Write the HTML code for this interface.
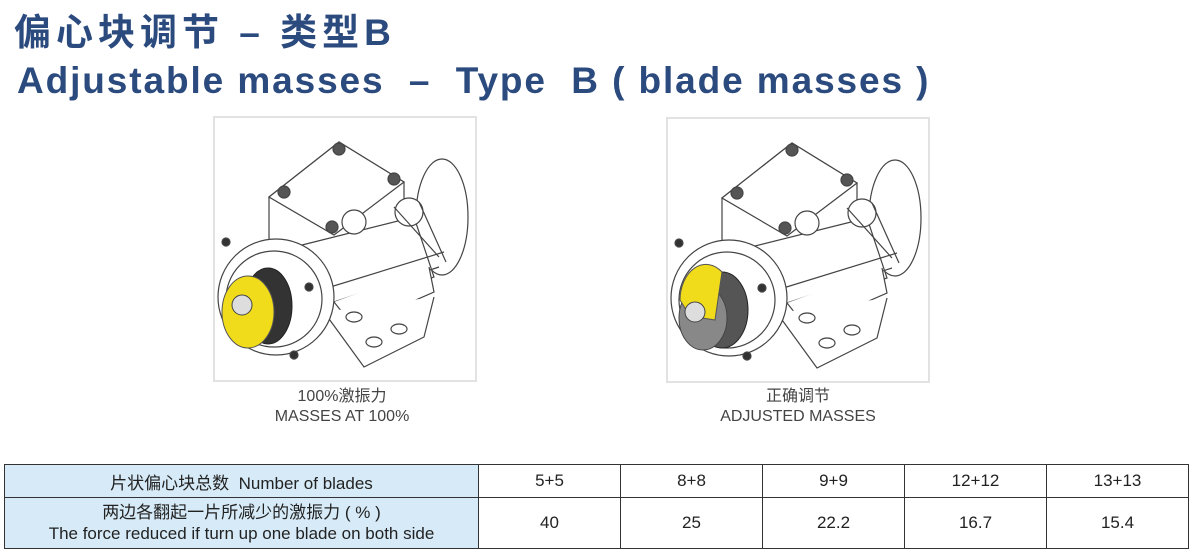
<!DOCTYPE html>
<html><head><meta charset="utf-8"><style>
body{margin:0;width:1194px;height:552px;background:#fff;overflow:hidden;position:relative;font-family:"Liberation Sans","Noto Sans CJK SC",sans-serif}
.t1{position:absolute;left:14px;top:2px;font-size:37px;font-weight:bold;color:#2b4a7e;font-family:"Liberation Sans","Noto Sans CJK SC",sans-serif;letter-spacing:5px;white-space:nowrap}
.t2{position:absolute;left:17px;top:60px;font-size:37px;font-weight:bold;color:#2b4a7e;letter-spacing:1.9px;white-space:nowrap}
.cap{position:absolute;text-align:center;font-size:16px;color:#444;line-height:20px}
table{position:absolute;left:4px;top:464px;border-collapse:collapse;font-size:17px;color:#222}
td{border:1.5px solid #333;text-align:center;padding:0;vertical-align:middle}
.h{background:#d6ebf7;width:473px}
.v{width:141px}
</style></head><body>
<div class="t1">偏心块调节 – 类型B</div>
<div class="t2">Adjustable masses &nbsp;– &nbsp;Type &nbsp;B ( blade masses )</div>
<svg width="1194" height="552" style="position:absolute;left:0;top:0">
<defs>
<g id="m" fill="#fff" stroke="#444" stroke-width="1.2">
<rect x="0" y="0" width="262" height="264" fill="#fff" stroke="#e2e2e2" stroke-width="2"/>
<ellipse cx="228" cy="100" rx="26" ry="58"/>
<path d="M55 80 L125 25 L190 65 L190 120 L120 175 L55 135 Z"/>
<path d="M55 80 L125 25 L190 65 L120 118 Z"/>
<circle cx="70" cy="75" r="6" fill="#555"/><circle cx="125" cy="32" r="6" fill="#555"/><circle cx="180" cy="62" r="6" fill="#555"/><circle cx="118" cy="110" r="6" fill="#555"/>
<path d="M80 130 L200 100 L220 160 L110 200 Z"/>
<path d="M100 175 L230 135 M105 190 L225 150"/>
<path d="M120 185 L140 210 L220 175 L215 150"/>
<path d="M110 195 L150 250 L210 220 L220 180"/>
<ellipse cx="160" cy="225" rx="8" ry="5"/><ellipse cx="185" cy="212" rx="8" ry="5"/><ellipse cx="140" cy="200" rx="8" ry="5"/>
<circle cx="140" cy="105" r="12"/><circle cx="195" cy="95" r="14"/>
<path d="M180 90 L225 140 M205 85 L232 145"/>
<circle cx="62" cy="180" r="58"/>
<circle cx="60" cy="182" r="48"/>
<circle cx="12" cy="125" r="4" fill="#333"/><circle cx="80" cy="238" r="4" fill="#333"/><circle cx="95" cy="170" r="4" fill="#333"/>
</g>
</defs>
<use href="#m" x="214" y="117"/>
<use href="#m" x="667" y="118"/>
<ellipse cx="268" cy="306" rx="24" ry="38" fill="#333" stroke="#222"/>
<ellipse cx="248" cy="312" rx="26" ry="36" fill="#f0dc1a" stroke="#555"/>
<circle cx="242" cy="305" r="10" fill="#ddd" stroke="#444"/>
<ellipse cx="722" cy="310" rx="26" ry="38" fill="#555" stroke="#222"/>
<ellipse cx="703" cy="318" rx="24" ry="32" fill="#888" stroke="#444"/>
<path d="M680 300 A26 36 0 0 1 722 272 L715 320 L690 316 Z" fill="#f0dc1a" stroke="#555"/>
<circle cx="695" cy="312" r="10" fill="#ddd" stroke="#444"/>
</svg>
<div class="cap" style="left:214px;top:387px;width:256px">100%激振力<br>MASSES AT 100%</div>
<div class="cap" style="left:667px;top:387px;width:262px">正确调节<br>ADJUSTED MASSES</div>
<table>
<tr style="height:33px"><td class="h">片状偏心块总数&nbsp; Number of blades</td><td class="v">5+5</td><td class="v">8+8</td><td class="v">9+9</td><td class="v">12+12</td><td class="v">13+13</td></tr>
<tr style="height:51px"><td class="h" style="line-height:21px">两边各翻起一片所减少的激振力 ( % )<br>The force reduced if turn up one blade on both side</td><td>40</td><td>25</td><td>22.2</td><td>16.7</td><td>15.4</td></tr>
</table>
</body></html>
